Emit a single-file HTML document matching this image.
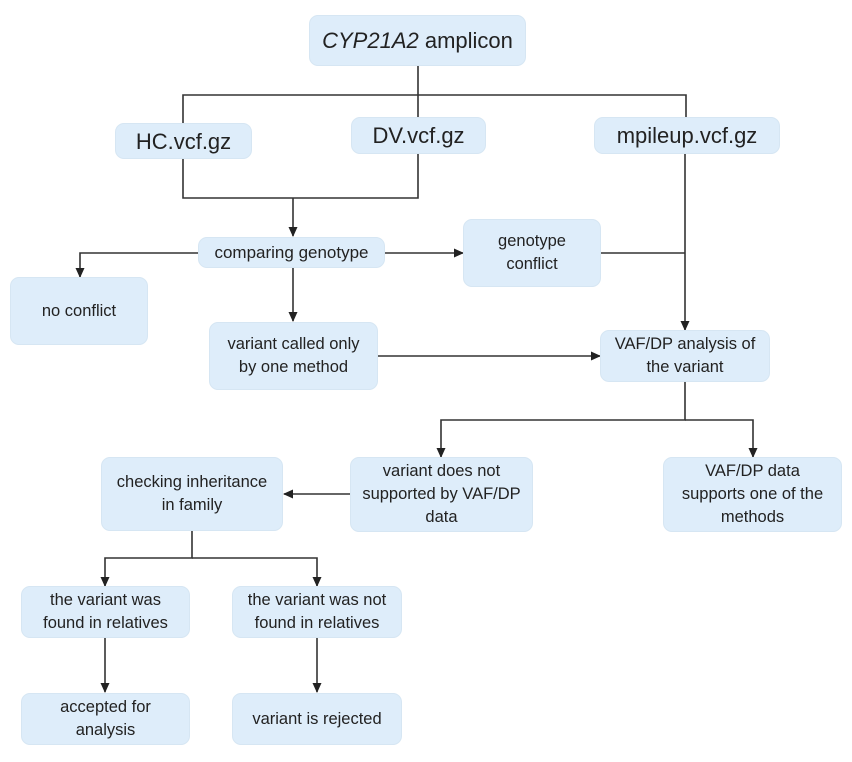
<!DOCTYPE html>
<html><head><meta charset="utf-8"><style>
body{margin:0;width:852px;height:762px;background:#fff;position:relative;overflow:hidden;font-family:"Liberation Sans",sans-serif;color:#222;}
.b{position:absolute;background:#deedfa;border:1.5px solid #d6e6f3;border-radius:9px;box-sizing:border-box;display:flex;align-items:center;justify-content:center;text-align:center;font-size:16.5px;line-height:23px;}
.big{font-size:22px;}
svg{position:absolute;left:0;top:0;}
</style></head><body>
<svg width="852" height="762">
<defs><marker id="a" markerWidth="10" markerHeight="10" refX="9" refY="5" orient="auto" markerUnits="userSpaceOnUse"><path d="M0,0.5 L10,5 L0,9.5 Z" fill="#222"/></marker></defs>
<g stroke="#333" stroke-width="1.6" fill="none">
<path d="M418,66 V95 M183,123 V95 H686 V117 M418,95 V117"/>
<path d="M183,159 V198 H418 V154"/>
<path d="M293,198 V236" marker-end="url(#a)"/>
<path d="M198,253 H80 V277" marker-end="url(#a)"/>
<path d="M385,253 H463" marker-end="url(#a)"/>
<path d="M601,253 H685"/>
<path d="M685,154 V330" marker-end="url(#a)"/>
<path d="M293,268 V321" marker-end="url(#a)"/>
<path d="M378,356 H600" marker-end="url(#a)"/>
<path d="M685,382 V420 H441 V457" marker-end="url(#a)"/>
<path d="M685,420 H753 V457" marker-end="url(#a)"/>
<path d="M350,494 H284" marker-end="url(#a)"/>
<path d="M192,531 V558 H105 V586" marker-end="url(#a)"/>
<path d="M192,558 H317 V586" marker-end="url(#a)"/>
<path d="M105,638 V692" marker-end="url(#a)"/>
<path d="M317,638 V692" marker-end="url(#a)"/>
</g></svg>
<div class="b big" style="left:309px;top:15px;width:217px;height:51px;"><span><i>CYP21A2</i> amplicon</span></div>
<div class="b big" style="left:115px;top:123px;width:137px;height:36px;">HC.vcf.gz</div>
<div class="b big" style="left:351px;top:117px;width:135px;height:37px;">DV.vcf.gz</div>
<div class="b big" style="left:594px;top:117px;width:186px;height:37px;">mpileup.vcf.gz</div>
<div class="b" style="left:198px;top:237px;width:187px;height:31px;font-size:17px;">comparing genotype</div>
<div class="b" style="left:463px;top:219px;width:138px;height:68px;">genotype<br>conflict</div>
<div class="b" style="left:10px;top:277px;width:138px;height:68px;">no conflict</div>
<div class="b" style="left:209px;top:322px;width:169px;height:68px;">variant called only<br>by one method</div>
<div class="b" style="left:600px;top:330px;width:170px;height:52px;">VAF/DP analysis of<br>the variant</div>
<div class="b" style="left:350px;top:457px;width:183px;height:75px;">variant does not<br>supported by VAF/DP<br>data</div>
<div class="b" style="left:663px;top:457px;width:179px;height:75px;">VAF/DP data<br>supports one of the<br>methods</div>
<div class="b" style="left:101px;top:457px;width:182px;height:74px;">checking inheritance<br>in family</div>
<div class="b" style="left:21px;top:586px;width:169px;height:52px;">the variant was<br>found in relatives</div>
<div class="b" style="left:232px;top:586px;width:170px;height:52px;">the variant was not<br>found in relatives</div>
<div class="b" style="left:21px;top:693px;width:169px;height:52px;">accepted for<br>analysis</div>
<div class="b" style="left:232px;top:693px;width:170px;height:52px;">variant is rejected</div>
</body></html>
